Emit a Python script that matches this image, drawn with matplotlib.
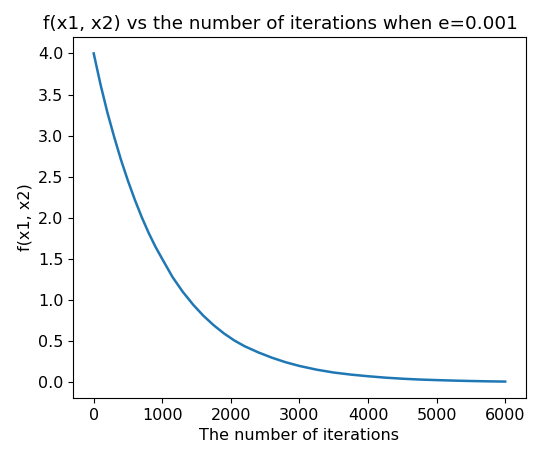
import matplotlib
matplotlib.use("Agg")
import matplotlib.pyplot as plt

# values
iterations = [0, 100, 200, 300, 400, 500, 600, 700, 800, 900, 1000, 1150,
              1300, 1450, 1600, 1750, 1900, 2050, 2200, 2400, 2600, 2800,
              3000, 3250, 3500, 3750, 4000, 4250, 4500, 4750, 5000, 5250,
              5500, 5750, 6000]
f_values = [4.00, 3.62, 3.28, 2.98, 2.70, 2.45, 2.22, 2.01, 1.82, 1.65, 1.50,
            1.28, 1.10, 0.945, 0.81, 0.695, 0.595, 0.51, 0.44, 0.365, 0.30,
            0.245, 0.20, 0.155, 0.12, 0.095, 0.075, 0.058, 0.045, 0.035,
            0.028, 0.022, 0.017, 0.013, 0.010]

fig = plt.figure(figsize=(5.54, 4.49), dpi=100)
ax = fig.add_axes([0.132, 0.1136, 0.817, 0.804])
ax.plot(iterations, f_values, linewidth=1.8)
ax.set_xlabel("The number of iterations", fontsize=11.5)
ax.set_ylabel("f(x1, x2)", fontsize=11.5)
ax.set_title("f(x1, x2) vs the number of iterations when e=0.001",
             fontsize=13.2, x=0.458)
ax.tick_params(labelsize=11.5)
fig.savefig("out.png", dpi=100)
